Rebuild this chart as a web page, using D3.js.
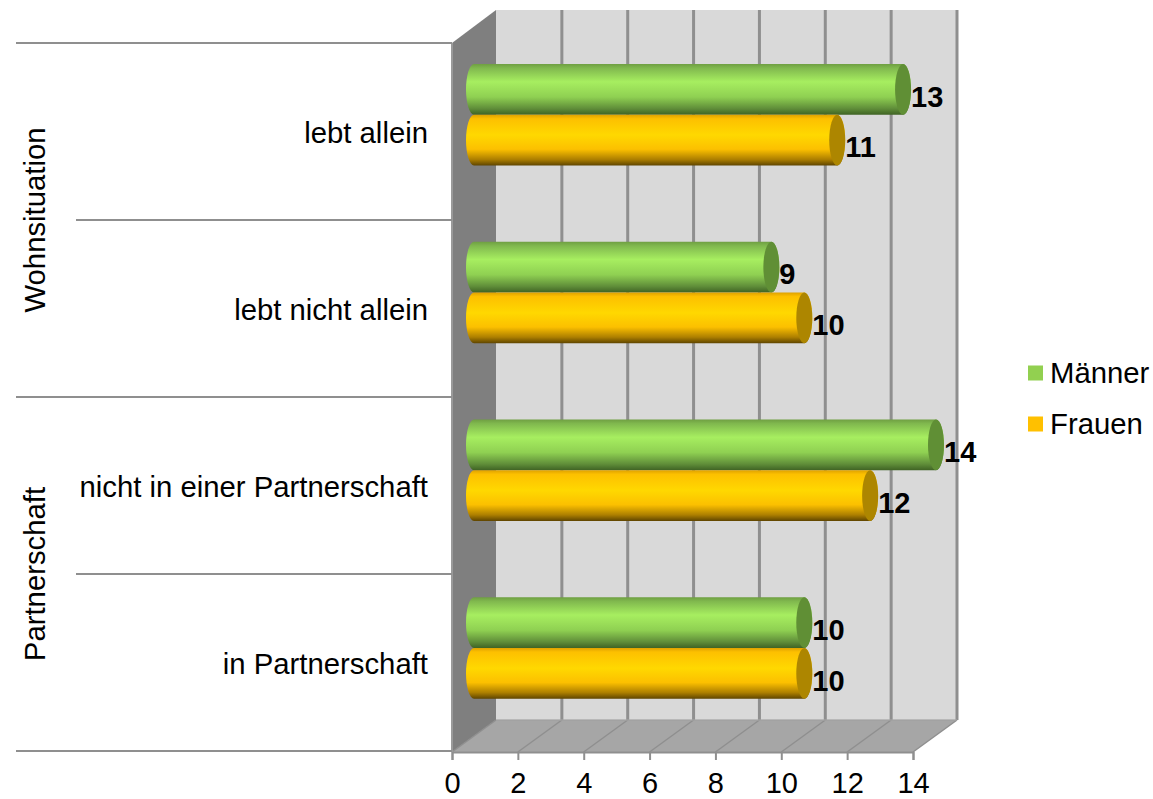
<!DOCTYPE html>
<html><head><meta charset="utf-8">
<script src="https://cdnjs.cloudflare.com/ajax/libs/d3/7.8.5/d3.min.js"></script>
<style>html,body{margin:0;padding:0;background:#fff}svg{display:block}text{font-family:"Liberation Sans",Arial,sans-serif;fill:#000}</style>
</head><body><svg id="c" width="1153" height="799"></svg>
<script>
const categories = ["lebt allein","lebt nicht allein","nicht in einer Partnerschaft","in Partnerschaft"];
const groups = ["Wohnsituation","Partnerschaft"];
const seriesNames = ["Männer","Frauen"];
const maenner = [13,9,14,10];
const frauen = [11,10,12,10];
const xTicks = [0,2,4,6,8,10,12,14];
const colors = {Männer:"#92d050",Frauen:"#ffc000"};
const capColors = {Männer:"#608f35",Frauen:"#ad8600"};

const svg = d3.select("#c");
const x = d3.scaleLinear().domain([0,14]).range([452,913]);
const yAxis = d3.scaleBand().domain(categories).range([43,751]);
const yBars = d3.scaleBand().domain(categories).range([42,753]);
const yInner = d3.scaleBand().domain(seriesNames).range([22,123.5]);
const dx=44, dy=-32, plotTop=43, plotBottom=752;

const defs = svg.append("defs");
function grad(id,stops){
  const g=defs.append("linearGradient").attr("id",id).attr("x1",0).attr("x2",0).attr("y1",0).attr("y2",1);
  stops.forEach(s=>g.append("stop").attr("offset",s[0]).attr("stop-color",s[1]));
}
grad("g-Männer",[[0,"#6f9f42"],[.08,"#80b84e"],[.35,"#a7ee60"],[.65,"#8fd052"],[.88,"#5f8d39"],[1,"#3f6324"]]);
grad("g-Frauen",[[0,"#dfa200"],[.08,"#fdc000"],[.4,"#ffd800"],[.68,"#fcc000"],[.88,"#ad7f00"],[1,"#5f4500"]]);

// walls
const wall = svg.append("g");
wall.append("rect").attr("x",x(0)+dx).attr("y",plotTop+dy-1).attr("width",x(14)-x(0)).attr("height",plotBottom-plotTop).attr("fill","#d9d9d9");
wall.append("path").attr("d",`M${x(0)},${plotTop}L${x(0)+dx},${plotTop+dy-1}V${plotBottom+dy}L${x(0)},${plotBottom}Z`).attr("fill","#7f7f7f");
wall.append("path").attr("d",`M${x(0)},${plotBottom}L${x(0)+dx},${plotBottom+dy}H${x(14)+dx}L${x(14)},${plotBottom}Z`).attr("fill","#a6a6a6");

// grid
const gridCol="#8f8f8f";
xTicks.forEach((t,i)=>{
  if(i>0) wall.append("line").attr("x1",x(t)+dx).attr("x2",x(t)+dx).attr("y1",plotTop+dy-1).attr("y2",plotBottom+dy).attr("stroke",gridCol).attr("stroke-width",3);
  wall.append("line").attr("x1",x(t)).attr("x2",x(t)+dx).attr("y1",plotBottom).attr("y2",plotBottom+dy).attr("stroke",gridCol).attr("stroke-width",1.5);
});
wall.append("line").attr("x1",x(0)+dx).attr("x2",x(14)+dx).attr("y1",plotBottom+dy).attr("y2",plotBottom+dy).attr("stroke","#a0a0a0").attr("stroke-width",1.5);

// x axis
const ax = svg.append("g").attr("transform",`translate(0,${plotBottom})`)
  .call(d3.axisBottom(x).tickValues(xTicks).tickSize(8).tickPadding(12));
ax.selectAll(".domain").attr("stroke",gridCol).attr("stroke-width",2);
ax.selectAll(".tick line").attr("stroke",gridCol).attr("stroke-width",2);
ax.selectAll("text").attr("font-size",29).attr("font-family",'"Liberation Sans",Arial,sans-serif').attr("fill","#000");

// left axis lines
const lineCol="#8f8f8f";
svg.append("line").attr("x1",x(0)).attr("x2",x(0)).attr("y1",plotTop).attr("y2",plotBottom).attr("stroke","#9a9a9a").attr("stroke-width",2);
categories.concat(["end"]).forEach((c,i)=>{
  const yv = c==="end"?yAxis.range()[1]:yAxis(c);
  svg.append("line").attr("x1",i%2?76:16).attr("x2",x(0)).attr("y1",yv).attr("y2",yv).attr("stroke",lineCol).attr("stroke-width",2);
});
categories.forEach(c=>{
  svg.append("text").attr("x",428).attr("y",yAxis(c)+yAxis.bandwidth()/2+1).attr("dy",".35em").attr("text-anchor","end").attr("font-size",29.3).text(c);
});
groups.forEach((g,i)=>{
  const cy = yAxis(categories[i*2+1]);
  svg.append("text").attr("transform",`translate(35,${cy}) rotate(-90)`).attr("dy",".35em").attr("text-anchor","middle").attr("font-size",29.3).text(g);
});

// bars
const rx=8, mid=dx/2;
const values={Männer:maenner,Frauen:frauen};
const barsG=svg.append("g"), labelsG=svg.append("g");
categories.forEach((c,i)=>{
  seriesNames.forEach(s=>{
    const v=values[s][i];
    const y0=yBars(c)+yInner(s), h=yInner.bandwidth(), ry=h/2;
    const xl=x(0)+mid, xr=x(v)+mid+1;
    barsG.append("path")
      .attr("d",`M${xl},${y0}H${xr}A${rx},${ry} 0 0 1 ${xr},${y0+h}H${xl}A${rx},${ry} 0 0 1 ${xl},${y0}Z`)
      .attr("fill",`url(#g-${s})`);
    barsG.append("ellipse").attr("cx",xr).attr("cy",y0+ry).attr("rx",rx).attr("ry",ry).attr("fill",capColors[s]);
    labelsG.append("text").attr("x",xr+rx).attr("y",y0+ry+7).attr("dy",".35em").attr("font-size",29).attr("font-weight","bold").text(v);
  });
});

// legend
const leg=svg.append("g");
seriesNames.forEach((s,i)=>{
  const ly=373+i*51;
  leg.append("rect").attr("x",1028).attr("y",ly-7.5).attr("width",15).attr("height",15).attr("fill",colors[s]);
  leg.append("text").attr("x",1050).attr("y",ly).attr("dy",".35em").attr("font-size",29.3).text(s);
});
</script></body></html>
